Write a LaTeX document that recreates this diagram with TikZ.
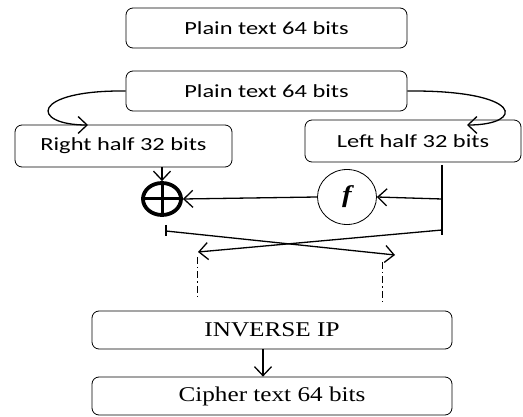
\documentclass[tikz,border=0pt]{standalone}
\usepackage{fontspec}
\usepackage{tikz}
\usetikzlibrary{arrows.meta,shapes.geometric}
\newfontfamily\boxsans[FakeStretch=1.32]{Carlito}
\newfontfamily\boxserif[FakeStretch=1.2]{Liberation Serif}
\tikzset{
	sansbox/.style={draw, rounded corners=7pt, line width=0.8pt, inner sep=0pt,
		font=\boxsans\fontsize{18.5}{20}\selectfont},
	serifbox/.style={draw, rounded corners=7pt, line width=0.8pt, inner sep=0pt,
		minimum width=360pt, minimum height=38pt,
		font=\boxserif\fontsize{21}{24}\selectfont},
	flow/.style={line width=1.3pt, -{Straight Barb[length=9pt,width=17pt,line width=1.3pt]}},
	wire/.style={line width=1.3pt},
	dashdot/.style={line width=1pt, dash pattern=on 7pt off 3pt on 1.5pt off 3pt}
}
\begin{document}
\begin{tikzpicture}[x=1pt, y=-1pt]
		%%%%% START %%%%%
		\useasboundingbox (0,0) rectangle (523,417);
		
		\node[sansbox, minimum width=281pt, minimum height=40pt] (plainA) at (266.5, 28) {Plain text 64 bits};
		\node[sansbox, minimum width=281pt, minimum height=40pt] (plainB) at (266.5, 91) {Plain text 64 bits};
		\node[sansbox, minimum width=217pt, minimum height=42pt] (rhalf) at (123.5, 146) {Right half 32 bits};
		\node[sansbox, minimum width=216pt, minimum height=42pt] (lhalf) at (413, 141) {Left half 32 bits};
		
		\node[ellipse, draw, line width=3.8pt, minimum width=38pt, minimum height=32pt, inner sep=0pt] (xor) at (162, 199) {};
		\draw[line width=3pt] (xor.north) -- (xor.south) (xor.west) -- (xor.east);
		\node[ellipse, draw, line width=0.8pt, minimum width=59pt, minimum height=55pt, inner sep=0pt,
			font=\boxserif\fontsize{24}{26}\selectfont\bfseries\itshape] (fbox) at (347, 197) {f};
		
		\node[serifbox] (inv) at (272, 330) {INVERSE IP};
		\node[serifbox] (cipher) at (272, 396) {Cipher text 64 bits};
		
		% swap of the halves
		\coordinate (rtip) at (88, 125);
		\coordinate (ltip) at (467, 125);
		\draw[flow] (plainB.west) .. controls (30, 90) and (30, 125) .. (rtip);
		\draw[flow] (plainB.east) .. controls (525, 90) and (525, 125) .. (ltip);
		
		% round function
		\coordinate (ltop) at (442, 165);
		\coordinate (lbot) at (442, 235);
		\coordinate (lmid) at (442, 199);
		\draw[wire] (ltop) -- (lbot);
		\draw[flow] (lmid) -- (fbox.east);
		\draw[flow] (fbox.west) -- (xor.east);
		\draw[flow] (rhalf.south -| xor) -- (xor.north);
		
		% crossing
		\coordinate (xtop) at (166, 225);
		\coordinate (xbot) at (166, 236);
		\coordinate (xa) at (166, 231);
		\coordinate (xb) at (442, 230);
		\coordinate (ya) at (395, 255);
		\coordinate (yb) at (198, 252);
		\draw[wire] (xtop) -- (xbot);
		\draw[flow] (xa) -- (ya);
		\draw[flow] (xb) -- (yb);
		
		\draw[dashdot] (197, 257) -- (197, 298);
		\draw[dashdot] (382, 262) -- (382, 304);
		
		\draw[flow] ([xshift=-9pt]inv.south) -- ([xshift=-9pt]cipher.north);
		
		%%%%% END %%%%%
	\end{tikzpicture}
\end{document}
